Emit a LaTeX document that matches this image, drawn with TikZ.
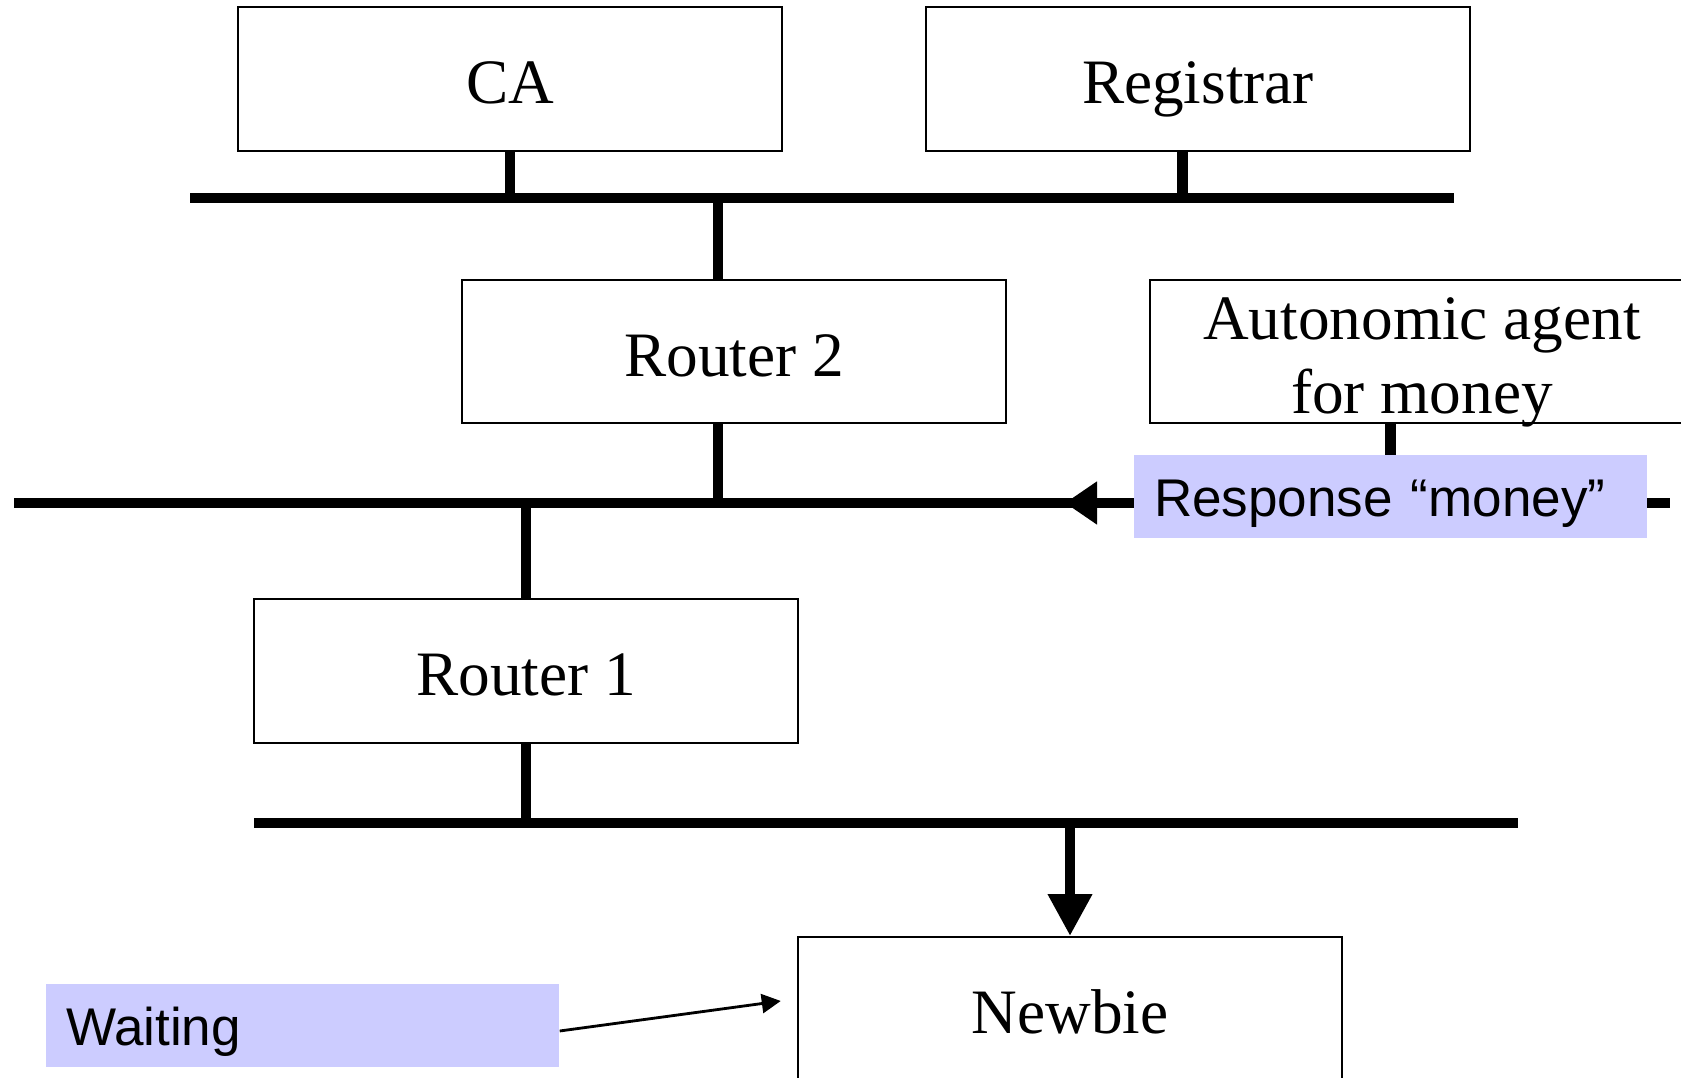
\documentclass[tikz,border=0pt]{standalone}
\usepackage{fontspec}
\setmainfont{Liberation Serif}
\setsansfont{Liberation Sans}
\usetikzlibrary{arrows.meta}
\definecolor{notefill}{HTML}{CCCCFF}

\begin{document}
\begin{tikzpicture}[
    every node/.style={inner sep=0pt},
    box/.style={draw, line width=0.7pt, minimum width=5.44cm, minimum height=1.435cm,
        font=\fontsize{18}{21.3}\selectfont, text height=0.5cm, text depth=0cm, align=center},
    note/.style={fill=notefill, text width=4.73cm, inner xsep=0.2cm, minimum height=0.83cm,
        text height=0.40cm, text depth=0cm, align=left,
        font=\sffamily\fontsize{15.1}{18}\selectfont},
    bus/.style={line width=2.85pt},
    stub/.style={line width=2.9pt}
]

    % Parameters
    \def\yA{8.79}
    \def\yB{5.74}
    \def\yC{2.54}

    \useasboundingbox (0,0) rectangle (16.81,10.77);
    \clip (0,0) rectangle (16.81,10.77);

    % =====================================================
    % Buses
    % =====================================================
    \coordinate (b1w) at (1.90,\yA);
    \coordinate (b1e) at (14.54,\yA);
    \coordinate (b2w) at (0.14,\yB);
    \coordinate (b2e) at (16.70,\yB);
    \coordinate (b3w) at (2.54,\yC);
    \coordinate (b3e) at (15.18,\yC);

    \draw[bus] (b1w) -- (b1e);
    \draw[bus] (b2w) -- (b2e);
    \draw[bus] (b3w) -- (b3e);

    % =====================================================
    % Hosts and routers
    % =====================================================
    \node[box] (ca) at (5.10,9.98) {CA};
    \node[box] (registrar) at (11.98,9.98) {Registrar};
    \node[box] (router2) at (7.34,7.255) {Router 2};
    \node[box, text height=1.25cm] (agent) at (14.22,7.255) {Autonomic agent\\for money};
    \node[box] (router1) at (5.26,4.06) {Router 1};
    \node[box, anchor=north] (newbie) at (10.70,1.41) {Newbie};

    \draw[stub] (ca.south) -- (ca.south |- b1w);
    \draw[stub] ([xshift=-0.155cm]registrar.south) -- ([xshift=-0.155cm]registrar.south |- b1w);
    \draw[stub] ([xshift=-0.16cm]router2.north |- b1w) -- ([xshift=-0.16cm]router2.north);
    \draw[stub] ([xshift=-0.16cm]router2.south) -- ([xshift=-0.16cm]router2.south |- b2w);
    \draw[stub] (router1.north |- b2w) -- (router1.north);
    \draw[stub] (router1.south) -- (router1.south |- b3w);

    % =====================================================
    % Messages
    % =====================================================
    \node[note] (response) at (13.905,5.80) {Response “money”};
    \node[note] (waiting) at (3.025,0.52) {Waiting};

    \draw[stub] (response.north |- agent.south) -- (response.north);
    \coordinate (rtip) at (10.65,\yB);
    \draw[bus, -{Triangle[length=0.32cm,width=0.41cm]}] (b2w -| response.west) -- (rtip);
    \draw[stub, -{Triangle[length=0.42cm,width=0.42cm]}] (newbie.north |- b3w) -- (newbie.north);
    \draw[line width=0.8pt, -{Triangle[length=0.19cm,width=0.19cm]}]
        ([yshift=-0.06cm]waiting.east) -- ([xshift=-0.16cm,yshift=0.08cm]newbie.west);

\end{tikzpicture}
\end{document}
